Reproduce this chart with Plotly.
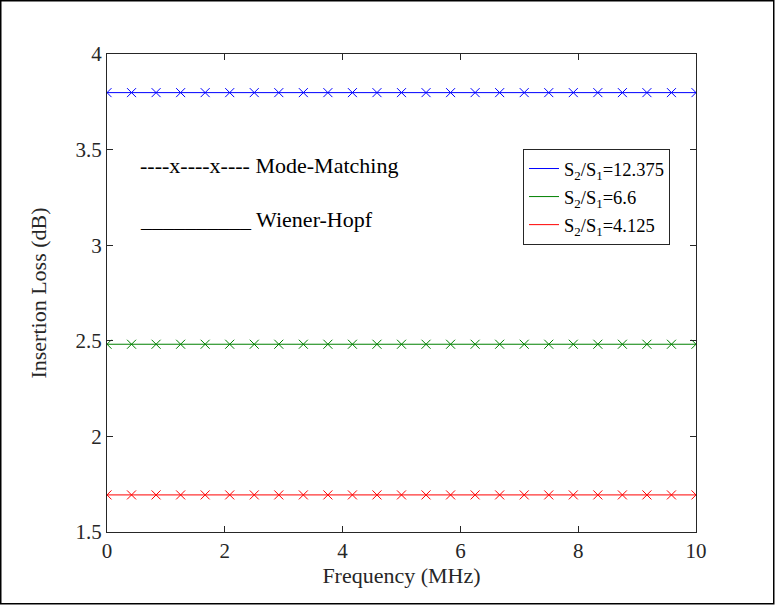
import numpy as np
import plotly.graph_objects as go

# Frequency sample points (MHz) and insertion loss levels (dB)
freq = np.linspace(0, 10, 25)
ratio_labels = ["S<sub>2</sub>/S<sub>1</sub>=12.375",
                "S<sub>2</sub>/S<sub>1</sub>=6.6",
                "S<sub>2</sub>/S<sub>1</sub>=4.125"]
wiener_hopf_il = [3.798, 2.482, 1.694]
mode_matching_il = [3.798, 2.482, 1.694]
colors = ["#0000ff", "#008000", "#ff0000"]

x_ticks = [0, 2, 4, 6, 8, 10]
y_ticks = [1.5, 2, 2.5, 3, 3.5, 4]

W, H = 775, 605
ML, MR, MT, MB = 107, 79, 54, 73
PW, PH = W - ML - MR, H - MT - MB
FONT = "Liberation Serif"
INK = "#262626"


def px_x(px):
    return (px - ML) / PW


def px_y(py):
    return (H - MB - py) / PH


fig = go.Figure()

for i, (lab, wh, mm, c) in enumerate(zip(ratio_labels, wiener_hopf_il,
                                          mode_matching_il, colors)):
    fig.add_trace(go.Scatter(
        x=freq, y=[wh] * len(freq), mode="lines", name=lab,
        legendgroup=f"g{i}", line=dict(color=c, width=1)))
    fig.add_trace(go.Scatter(
        x=freq, y=[mm] * len(freq), mode="markers", showlegend=False,
        legendgroup=f"g{i}",
        marker=dict(symbol="x-thin", size=9, line=dict(color=c, width=1))))

axis_common = dict(
    showgrid=False, zeroline=False, ticks="inside", ticklen=6,
    tickcolor=INK, tickwidth=1, showline=True, linecolor=INK,
    linewidth=1, mirror="ticks",
    tickfont=dict(family=FONT, size=21, color=INK),
)

fig.update_xaxes(range=[0, 10], tickvals=x_ticks,
                 title=dict(text="Frequency (MHz)", standoff=1,
                            font=dict(family=FONT, size=22, color=INK)),
                 **axis_common)
fig.update_yaxes(range=[1.5, 4], tickvals=y_ticks,
                 title=dict(text="Insertion Loss (dB)", standoff=22,
                            font=dict(family=FONT, size=22, color=INK)),
                 **axis_common)

# Method key written inside the axes
fig.add_annotation(x=px_x(138), y=px_y(166), xref="paper", yref="paper",
                   xanchor="left", yanchor="middle", showarrow=False,
                   text="----x----x---- Mode-Matching",
                   font=dict(family=FONT, size=22, color="#000000"))
fig.add_annotation(x=px_x(138), y=px_y(219), xref="paper", yref="paper",
                   xanchor="left", yanchor="middle", showarrow=False,
                   text="__________ Wiener-Hopf",
                   font=dict(family=FONT, size=22, color="#000000"))

# Outer figure frame
fig.add_shape(type="rect", xref="paper", yref="paper",
              x0=px_x(0.75), x1=px_x(W - 1.25),
              y0=px_y(H - 1.25), y1=px_y(0.75),
              line=dict(color="#000000", width=1.5), layer="above")

fig.update_layout(
    width=W, height=H,
    margin=dict(l=ML, r=MR, t=MT, b=MB, pad=0),
    paper_bgcolor="white", plot_bgcolor="white",
    font=dict(family=FONT, color="#000000"),
    legend=dict(x=px_x(523), y=px_y(149), xanchor="left", yanchor="top",
                bgcolor="white", bordercolor=INK, borderwidth=1,
                font=dict(family=FONT, size=18.5, color="#000000"),
                itemwidth=30, tracegroupgap=1),
)

fig.write_html("out.html")
